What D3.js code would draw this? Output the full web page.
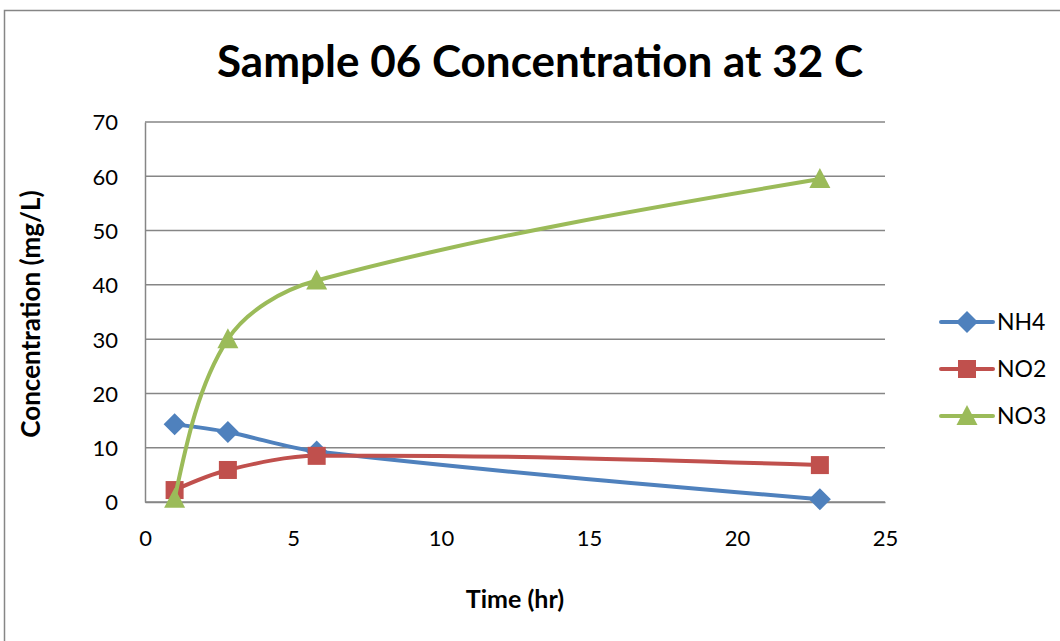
<!DOCTYPE html>
<html><head><meta charset="utf-8">
<script src="https://cdn.jsdelivr.net/npm/d3@7"></script>
<style>body{margin:0;background:#fff}svg{display:block}</style>
</head><body>
<svg id="c" width="1060" height="641"></svg>
<script>
const timeHr = [1, 2.8, 5.8, 22.8];
const nh4 = [14.3, 12.9, 9.3, 0.5];
const no2 = [2.2, 5.9, 8.5, 6.8];
const no3 = [0.6, 30.0, 40.8, 59.5];
const seriesNames = ["NH4", "NO2", "NO3"];
const seriesColors = ["#4F81BD", "#C0504D", "#9BBB59"];
const xTicks = [0, 5, 10, 15, 20, 25];
const yTicks = [0, 10, 20, 30, 40, 50, 60, 70];

const svg = d3.select("#c");
const font = "Lato, 'Open Sans', sans-serif";
svg.append("rect").attr("x",4.5).attr("y",10.5).attr("width",1200).attr("height",800)
  .attr("fill","#fff").attr("stroke","#868686").attr("stroke-width",1.5);

const x = d3.scaleLinear().domain([0,25]).range([145,885]);
const y = d3.scaleLinear().domain([0,70]).range([502,122]);

// gridlines
svg.append("g").selectAll("line").data(yTicks).join("line")
  .attr("x1",x(0)).attr("x2",x(25)).attr("y1",d=>y(d)).attr("y2",d=>y(d))
  .attr("stroke","#868686").attr("stroke-width",1.5);

const yAxis = d3.axisLeft(y).tickValues(yTicks).tickSize(0).tickPadding(27);
const gy = svg.append("g").attr("transform",`translate(${x(0)},0)`).call(yAxis);
const xAxis = d3.axisBottom(x).tickValues(xTicks).tickSize(0).tickPadding(36);
const gx = svg.append("g").attr("transform",`translate(0,${y(0)})`).call(xAxis);
[gx,gy].forEach(g=>{
  g.select(".domain").attr("stroke","#868686").attr("stroke-width",1.5);
  g.selectAll(".tick line").remove();
  g.selectAll("text").attr("font-family",font).attr("font-size",22).attr("fill","#000");
});
gy.selectAll(".tick text").attr("dy","0.36em");
gx.selectAll(".tick text").attr("dy","0.36em");

// titles
svg.append("text").attr("x",540).attr("y",77).attr("text-anchor","middle")
  .attr("font-family",font).attr("font-weight","bold").attr("font-size",44)
  .text("Sample 06 Concentration at 32 C");
svg.append("text").attr("x",515).attr("y",608).attr("text-anchor","middle")
  .attr("font-family",font).attr("font-weight","bold").attr("font-size",25)
  .text("Time (hr)");
svg.append("text").attr("transform","translate(40,314) rotate(-90)").attr("text-anchor","middle")
  .attr("font-family",font).attr("font-weight","bold").attr("font-size",26)
  .text("Concentration (mg/L)");

const series = [nh4, no2, no3].map((vals,i)=>({name:seriesNames[i],color:seriesColors[i],
  pts: timeHr.map((t,j)=>[t,vals[j]])}));

// Excel-like smoothing: chord-length weighted tangents (no overshoot)
function smoothPath(data){
  const P = data.map(d=>[x(d[0]), y(d[1])]);
  const n = P.length;
  const dist = (a,b)=>Math.hypot(b[0]-a[0], b[1]-a[1]);
  const D = []; for(let i=0;i<n-1;i++) D.push(dist(P[i],P[i+1]));
  // tangents
  const T = P.map((p,i)=>{
    if(i===0 || i===n-1) return null;
    return [P[i+1][0]-P[i-1][0], P[i+1][1]-P[i-1][1]];
  });
  const path = d3.path();
  path.moveTo(P[0][0],P[0][1]);
  for(let i=0;i<n-1;i++){
    let c1, c2;
    if(T[i]){ const f = D[i]/(3*(D[i-1]+D[i])); c1=[P[i][0]+T[i][0]*f, P[i][1]+T[i][1]*f]; }
    if(T[i+1]){ const f = D[i]/(3*(D[i]+D[i+1])); c2=[P[i+1][0]-T[i+1][0]*f, P[i+1][1]-T[i+1][1]*f]; }
    if(!c1) c1=[P[i][0]+(c2[0]-P[i][0])/2, P[i][1]+(c2[1]-P[i][1])/2];
    if(!c2) c2=[P[i+1][0]+(c1[0]-P[i+1][0])/2, P[i+1][1]+(c1[1]-P[i+1][1])/2];
    path.bezierCurveTo(c1[0],c1[1],c2[0],c2[1],P[i+1][0],P[i+1][1]);
  }
  return path.toString();
}

function marker(g, i, cx, cy, color){
  if(i===0){
    g.append("path").attr("d",`M${cx},${cy-11}L${cx+11},${cy}L${cx},${cy+11}L${cx-11},${cy}Z`).attr("fill",color);
  } else if(i===1){
    g.append("rect").attr("x",cx-9).attr("y",cy-9).attr("width",18).attr("height",18).attr("fill",color);
  } else {
    g.append("path").attr("d",`M${cx},${cy-11}L${cx+10.5},${cy+9}L${cx-10.5},${cy+9}Z`).attr("fill",color);
  }
}

series.forEach((s,i)=>{
  svg.append("path").attr("d",smoothPath(s.pts)).attr("fill","none")
    .attr("stroke",s.color).attr("stroke-width",4).attr("stroke-linecap","round");
  const g = svg.append("g");
  s.pts.forEach(p=>marker(g,i,x(p[0]),y(p[1]),s.color));
});

// legend
const lg = svg.append("g");
series.forEach((s,i)=>{
  const ly = 322 + i*47;
  lg.append("line").attr("x1",941).attr("x2",993).attr("y1",ly).attr("y2",ly)
    .attr("stroke",s.color).attr("stroke-width",4).attr("stroke-linecap","round");
  marker(lg,i,967,ly,s.color);
  lg.append("text").attr("x",997).attr("y",ly).attr("dy","0.36em")
    .attr("font-family",font).attr("font-size",23).text(s.name);
});
</script>
</body></html>
